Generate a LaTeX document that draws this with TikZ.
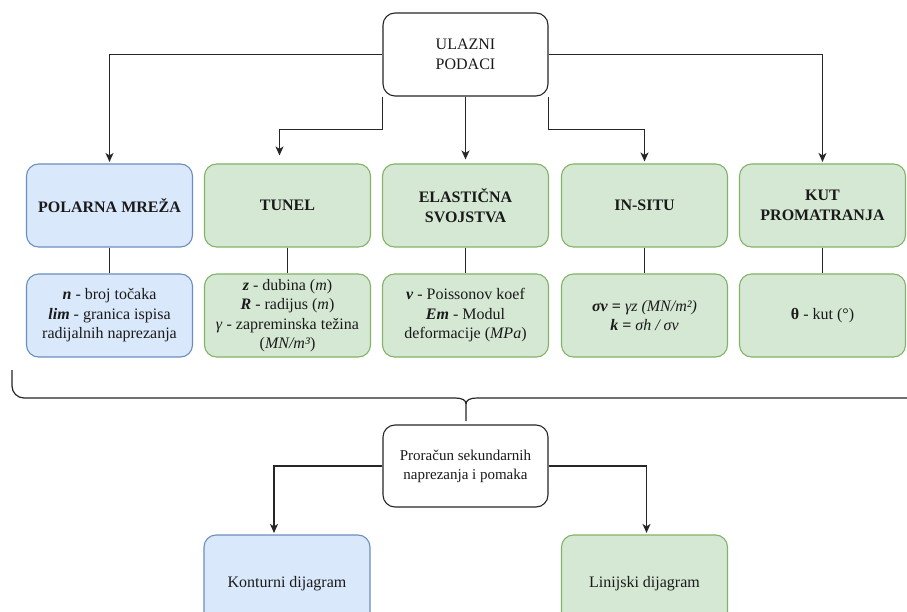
\documentclass[tikz,border=0pt]{standalone}
\usepackage{fontspec}
\setmainfont{Liberation Serif}
\usetikzlibrary{arrows.meta,calc}
\definecolor{bluefill}{HTML}{DAE8FC}
\definecolor{bluedraw}{HTML}{6C8EBF}
\definecolor{greenfill}{HTML}{D5E8D4}
\definecolor{greendraw}{HTML}{82B366}
\definecolor{linec}{HTML}{262626}
\definecolor{textc}{HTML}{1A1A1A}
\begin{document}
\begin{tikzpicture}[x=1pt,y=-1pt,
  box/.style={rounded corners=12pt, line width=1.1pt, minimum width=166pt, minimum height=83pt,
     inner sep=0pt, align=center, text=textc, font=\fontsize{16}{19.5}\selectfont},
  whitebox/.style={box, draw=linec, fill=white},
  bluebox/.style={box, draw=bluedraw, fill=bluefill},
  greenbox/.style={box, draw=greendraw, fill=greenfill},
  conn/.style={draw=linec, line width=1.3pt},
  arr/.style={conn, -{Stealth[length=9pt,width=8pt,inset=2.5pt]}},
  hd/.style={font=\fontsize{16}{20}\selectfont\bfseries}
]
\clip (0,0) rectangle (907,612);
\fill[white] (0,0) rectangle (907,612);

% top
\node[whitebox, minimum width=165pt] (top) at (465.5,54.5) {ULAZNI\\PODACI};

% row 1
\node[bluebox, hd] (polar) at (109.5,205.5) {POLARNA MREŽA};
\node[greenbox, hd] (tunel) at (287.5,205.5) {TUNEL};
\node[greenbox, hd] (elas) at (465.5,205.5) {ELASTIČNA\\SVOJSTVA};
\node[greenbox, hd] (insitu) at (644.5,205.5) {IN-SITU};
\node[greenbox, hd] (kut) at (822.5,205.5) {KUT\\PROMATRANJA};

% row 2
\node[bluebox] (polar2) at (109.5,315.5) {\textbf{\textit{n}} - broj točaka\\\textbf{\textit{lim}} - granica ispisa\\radijalnih naprezanja};
\node[greenbox] (tunel2) at (287.5,315.5) {\textbf{\textit{z}} - dubina (\textit{m})\\\textbf{\textit{R}} - radijus (\textit{m})\\\textit{γ} - zapreminska težina\\(\textit{MN/m³})};
\node[greenbox] (elas2) at (465.5,315.5) {\textbf{\textit{v}} - Poissonov koef\\\textbf{\textit{Em}} - Modul\\deformacije (\textit{MPa})};
\node[greenbox] (insitu2) at (644.5,315.5) {\textbf{\textit{σv} =} \textit{γz (MN/m²)}\\\textbf{\textit{k} =} \textit{σh / σv}};
\node[greenbox] (kut2) at (822.5,315.5) {\textbf{θ} - kut (°)};

% connectors from top
\draw[arr, shorten >=1.5pt] (top.west) -| (polar.north);
\draw[arr, shorten >=1.5pt] (top.east) -| (kut.north);
\draw[arr] (top.south west) -- ++(0,33) -| ([xshift=-8pt,yshift=8pt]tunel.north);
\draw[arr] (top.south) -- ([yshift=4pt]elas.north);
\draw[arr] (top.south east) -- ++(0,33) -| ([yshift=2pt]insitu.north);

% row1 to row2
\foreach \a in {polar,tunel,elas,insitu,kut}{
  \draw[conn] (\a.south) -- (\a2.north);
}

% bottom
\node[whitebox, minimum width=165pt, minimum height=82pt, font=\fontsize{15}{19}\selectfont] (proc) at (465.5,466) {Proračun sekundarnih\\naprezanja i pomaka};
\node[bluebox, minimum height=98pt] (kont) at (287,584) {Konturni dijagram};
\node[greenbox, minimum height=98pt] (lin) at (644.5,584) {Linijski dijagram};

% brace
\coordinate (bl) at (12,370);
\coordinate (bc) at (466,404);
\coordinate (bs) at (466,421);
\coordinate (br) at (920,398);
\draw[conn, line width=1.2pt] (bl) -- (12,386) arc[start angle=180, end angle=90, x radius=12pt, y radius=-12pt] -- (455,398)
  .. controls (462,398) and (466,400) .. (bc) -- (bs);
\draw[conn, line width=1.2pt] (bc) .. controls (466,400) and (470,398) .. (477,398) -- (br);

\draw[arr, shorten >=1.5pt] (proc.west) -| ([xshift=-13pt]kont.north);
\draw[arr, shorten >=1.5pt] (proc.east) -| ([xshift=2pt]lin.north);
\end{tikzpicture}
\end{document}
